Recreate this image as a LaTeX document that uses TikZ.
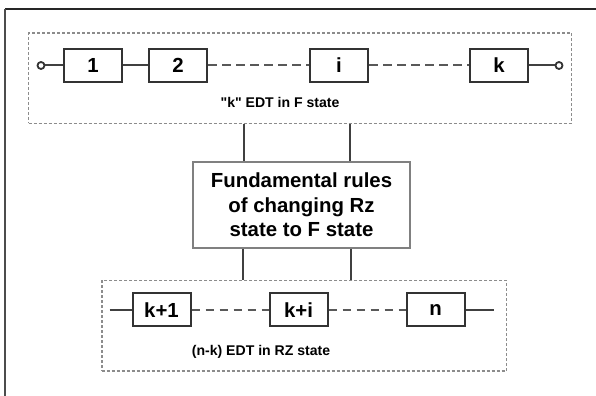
\documentclass[tikz,border=0pt]{standalone}
\usepackage{fontspec}
\setmainfont{Liberation Sans}[Ligatures=TeXOff]
\usetikzlibrary{positioning,fit,calc}

\begin{document}
\begin{tikzpicture}[
    x=0.25mm, y=0.25mm,
    font=\bfseries,
    node distance=6.25mm,
    edt/.style={rectangle, draw=black!80, line width=0.5mm, fill=white,
      minimum width=14.5mm, minimum height=8.25mm, inner sep=0pt,
      font=\fontsize{14.5}{16}\selectfont\bfseries},
    term/.style={circle, draw=black!80, line width=0.45mm, fill=white,
      minimum size=1.75mm, inner sep=0pt},
    wire/.style={draw=black!75, line width=0.5mm},
    gap/.style={draw=black!65, line width=0.5mm, dash pattern=on 2.2mm off 1.3mm},
    grp/.style={draw=black!45, line width=0.4mm, dash pattern=on 0.75mm off 0.5mm},
    lbl/.style={font=\fontsize{10}{12}\selectfont\bfseries, inner sep=0pt, anchor=base},
    rulebox/.style={rectangle, draw=black!50, line width=0.4mm, fill=white,
      minimum width=54.25mm, minimum height=21.5mm, align=center,
      font=\fontsize{14.5}{17.4}\selectfont\bfseries}
  ]
  \useasboundingbox (0,0) rectangle (596,396);
  \draw[black!85, line width=0.5mm] (596,387) -- (5,387);
  \draw[black!70, line width=0.5mm] (5,387) -- (5,0);

  % F state chain
  \node[term] (cL) at (41,330.5) {};
  \node[edt] (f1) at (93,330.5) {1};
  \node[edt, right=of f1] (f2) {2};
  \node[edt, right=25.25mm of f2] (fi) {i};
  \node[edt, right=25mm of fi] (fk) {k};
  \node[term] (cR) at (559,330.5) {};
  \draw[wire] (cL) -- (f1) (f1) -- (f2) (fk) -- (cR);
  \draw[gap] (f2) -- (fi) (fi) -- (fk);
  \node[lbl] (lblF) at (280,288) {"k" EDT in F state};
  \node[grp, fit=(cL)(cR)(f1)(lblF), inner xsep=2mm, inner ysep=3.75mm] (grpF) {};

  % rules
  \node[rulebox] (rules) at (301.5,191) {Fundamental rules\\of changing Rz\\state to F state};
  \coordinate (ra) at ([xshift=-14.4mm]rules.north);
  \coordinate (rb) at ([xshift=12.1mm]rules.north);
  \coordinate (rc) at ([xshift=-14.6mm]rules.south);
  \coordinate (rd) at ([xshift=12.4mm]rules.south);
  \draw[wire] (grpF.south -| ra) -- (ra) (grpF.south -| rb) -- (rb);

  % RZ state chain
  \node[edt] (z1) at (161.5,86) {k+1};
  \node[edt, right=19.25mm of z1] (zi) {k+i};
  \node[edt, right=19.25mm of zi] (zn) {n};
  \coordinate[left=5.5mm of z1] (zL);
  \coordinate[right=7mm of zn] (zR);
  \draw[wire] (zL) -- (z1) (zn) -- (zR);
  \draw[gap] (z1) -- (zi) (zi) -- (zn);
  \node[lbl] (lblRZ) at (261,40) {(n-k) EDT in RZ state};
  \node[grp, fit=(zL)(zR)(z1)(lblRZ), inner xsep=2.6mm, inner ysep=3mm, xshift=0.65mm] (grpRZ) {};
  \draw[wire] (rc) -- (rc |- grpRZ.north) (rd) -- (rd |- grpRZ.north);
\end{tikzpicture}
\end{document}
